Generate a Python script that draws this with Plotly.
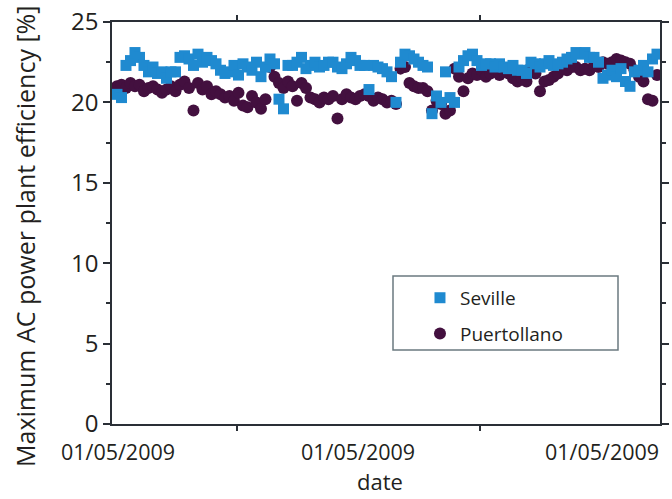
import plotly.graph_objects as go

days = list(range(121))

seville = [20.5, 20.3, 22.3, 22.6, 23.1, 22.8, 22.3, 21.9, 22.2, 21.8,
           21.9, 21.5, 21.9, 21.9, 22.8, 22.9, 22.7, 22.3, 23.0, 22.5,
           22.8, 22.6, 22.4, 22.0, 21.8, 21.9, 22.3, 21.7, 22.4, 22.2,
           22.0, 22.5, 21.6, 22.2, 22.7, 22.4, 20.2, 19.6, 22.3, 22.3,
           22.5, 22.8, 22.1, 22.3, 22.5, 22.2, 22.3, 22.5, 22.5, 22.2,
           22.1, 22.4, 22.8, 22.6, 22.3, 22.3, 20.8, 22.3, 22.2, 22.1,
           21.9, 21.6, 20.0, 22.5, 23.0, 22.9, 22.7, 22.5, 22.3, 22.2,
           19.3, 20.4, 20.0, 21.9, 20.3, 20.0, 22.2, 22.6, 22.9, 23.0,
           22.6, 22.3, 22.4, 22.4, 22.2, 22.4, 22.2, 22.1, 22.3, 22.0,
           22.0, 21.8, 22.5, 22.4, 22.2, 22.4, 22.6, 22.3, 22.4, 22.5,
           22.7, 22.8, 23.1, 23.0, 23.1, 22.8, 22.8, 22.5, 21.5, 21.7,
           22.0, 21.6, 22.1, 21.3, 21.0, 21.9, 22.0, 22.3, 21.9, 22.7,
           23.0]

puertollano = [21.0, 21.1, 20.9, 21.2, 21.0, 21.1, 20.7, 20.9, 21.0, 20.8,
               20.6, 20.8, 21.0, 20.7, 21.1, 21.3, 20.9, 19.5, 21.2, 20.8,
               21.0, 20.5, 20.7, 20.5, 20.3, 20.4, 20.1, 20.6, 19.8, 19.7,
               20.4, 20.0, 19.6, 20.2, 22.2, 21.6, 21.2, 20.9, 21.3, 21.0,
               20.1, 21.2, 20.9, 20.3, 20.2, 20.0, 20.3, 20.2, 20.4, 19.0,
               20.2, 20.5, 20.3, 20.2, 20.4, 20.5, 20.4, 20.1, 20.3, 20.2,
               20.0, 20.1, 19.9, 22.1, 22.2, 21.2, 21.0, 20.9, 20.9, 20.7,
               19.5, 20.1, 19.9, 19.3, 19.5, 22.1, 21.6, 20.7, 21.5, 21.8,
               21.7, 22.0, 21.6, 21.8, 22.0, 21.7, 21.9, 21.8, 21.5, 21.3,
               21.5, 21.3, 22.2, 21.8, 20.7, 21.3, 21.4, 21.6, 21.8, 22.1,
               22.0, 22.2, 22.2, 22.0, 22.1, 22.0, 22.3, 22.2, 22.5, 22.4,
               22.5, 22.7, 22.6, 22.5, 22.4, 22.0, 21.6, 21.3, 20.2, 20.1,
               21.7]

x_label_pos = [0.22, 53.56, 107.78]
x_labels = ["01/05/2009", "01/05/2009", "01/05/2009"]
x_minor_pos = [26.67, 80.67]
y_ticks = [0, 5, 10, 15, 20, 25]

FONT = "Open Sans"
TXT = "#231f20"
AX = "#2a2f36"

fig = go.Figure()
fig.add_trace(go.Scatter(
    x=days, y=puertollano, mode="markers", name="Puertollano",
    marker=dict(symbol="circle", size=12, color="#43103f"),
    legendgroup="b", legendrank=2))
fig.add_trace(go.Scatter(
    x=days, y=seville, mode="markers", name="Seville",
    marker=dict(symbol="square", size=11, color="#1f8ad0"),
    legendgroup="a", legendrank=1))

fig.update_layout(
    width=672, height=499,
    margin=dict(l=112, r=12, t=22, b=75, autoexpand=False),
    paper_bgcolor="white", plot_bgcolor="white",
    font=dict(family=FONT, color=TXT),
    showlegend=True,
    legend=dict(x=0.562, y=0.361, xanchor="left", yanchor="top",
                bgcolor="rgba(0,0,0,0)", borderwidth=0,
                font=dict(family=FONT, size=19, color=TXT),
                traceorder="grouped", tracegroupgap=8,
                itemsizing="trace"),
    xaxis=dict(range=[-1.11, 120.67], tickmode="array",
               tickvals=x_label_pos, ticktext=x_labels, ticks="",
               ticklabelstandoff=8,
               showgrid=False, zeroline=False, showline=True,
               linecolor=AX, linewidth=1.5, mirror="ticks",
               tickfont=dict(family=FONT, size=21.5, color=TXT),
               minor=dict(tickmode="array", tickvals=x_minor_pos,
                          ticks="outside", ticklen=5, tickcolor=AX,
                          tickwidth=1.5, showgrid=False)),
    yaxis=dict(range=[0, 25], tickmode="array", tickvals=y_ticks,
               ticks="outside", ticklen=7, tickwidth=1.5, tickcolor=AX,
               showgrid=False, zeroline=False, showline=True,
               linecolor=AX, linewidth=1.5, mirror="ticks",
               tickfont=dict(family=FONT, size=24, color=TXT),
               minor=dict(tickmode="linear", tick0=2.5, dtick=5,
                          ticks="outside", ticklen=4, tickcolor=AX,
                          tickwidth=1.5, showgrid=False)),
    shapes=[dict(type="rect", xref="paper", yref="paper",
                 x0=(393 - 112) / 548, x1=(618 - 112) / 548,
                 y0=(424 - 350) / 402, y1=(424 - 276) / 402,
                 line=dict(color="#6b7a80", width=1.5),
                 fillcolor="rgba(0,0,0,0)", layer="below")],
    annotations=[
        dict(text="Maximum AC power plant efficiency [%]", textangle=-90,
             xref="paper", yref="paper", x=(25 - 112) / 548,
             y=(424 - 237) / 402, xanchor="center", yanchor="middle",
             showarrow=False, font=dict(family=FONT, size=25, color=TXT)),
        dict(text="date", xref="paper", yref="paper",
             x=(380 - 112) / 548, y=(424 - 498) / 402,
             xanchor="center", yanchor="bottom", showarrow=False,
             font=dict(family=FONT, size=22, color=TXT)),
    ],
)

fig.write_html("out.html")
